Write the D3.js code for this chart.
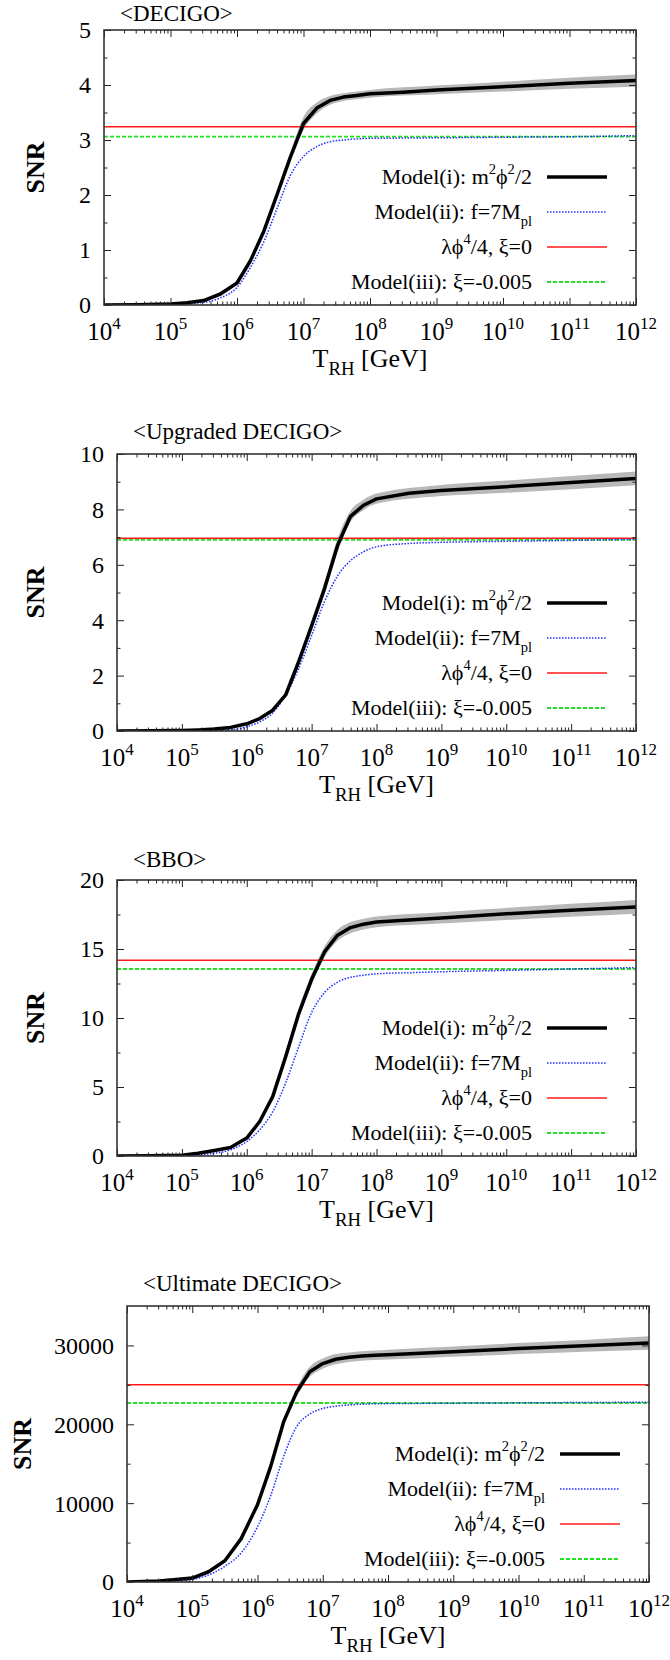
<!DOCTYPE html>
<html>
<head>
<meta charset="utf-8">
<script src="https://cdn.jsdelivr.net/npm/d3@7"></script>
<style>
  body { margin: 0; background: #fff; }
  svg { display: block; }
  svg text { font-family: "Liberation Serif", "Times New Roman", "Nimbus Roman", "DejaVu Serif", serif; }
</style>
</head>
<body>
<svg id="chart" width="670" height="1660"></svg>
<script>
// log10(T_RH / GeV) grids
const blackT = [4, 4.5, 5, 5.25, 5.5, 5.75, 6, 6.2, 6.4, 6.6, 6.8, 7, 7.2, 7.4, 7.6, 7.8, 8, 8.5, 9, 10, 11, 12];
const blueT = [4, 4.5, 5, 5.5, 5.75, 6, 6.2, 6.4, 6.6, 6.8, 7, 7.2, 7.4, 7.6, 7.8, 8, 8.5, 9, 10, 11, 12];
const bandT = [6.6, 6.8, 7, 7.2, 7.4, 7.6, 7.8, 8, 9, 10, 11, 12];
const tickExps = [4, 5, 6, 7, 8, 9, 10, 11, 12];
const minorMult = [2, 3, 4, 5, 6, 7, 8, 9];

// <DECIGO>
const decigoModel1 = [0, 0.005, 0.02, 0.04, 0.08, 0.2, 0.4, 0.8, 1.33, 2.0, 2.68, 3.3, 3.58, 3.72, 3.78, 3.81, 3.84, 3.87, 3.91, 3.97, 4.03, 4.08];
const decigoModel2 = [0, 0.003, 0.01, 0.05, 0.13, 0.32, 0.68, 1.14, 1.75, 2.35, 2.7, 2.88, 2.97, 3.0, 3.02, 3.03, 3.035, 3.04, 3.05, 3.06, 3.08];
const decigoBandLo = [1.93, 2.6, 3.18, 3.48, 3.64, 3.71, 3.74, 3.77, 3.83, 3.88, 3.93, 3.97];
const decigoBandHi = [2.07, 2.76, 3.42, 3.68, 3.8, 3.85, 3.88, 3.91, 3.99, 4.06, 4.13, 4.19];
const decigoLambda = 3.24;
const decigoXi = 3.06;

// <Upgraded DECIGO>
const upgradedModel1 = [0, 0.005, 0.02, 0.04, 0.07, 0.13, 0.26, 0.45, 0.75, 1.3, 2.5, 3.8, 5.15, 6.7, 7.75, 8.15, 8.38, 8.58, 8.68, 8.82, 8.97, 9.12];
const upgradedModel2 = [0, 0.003, 0.01, 0.02, 0.04, 0.15, 0.33, 0.65, 1.3, 2.25, 3.45, 4.68, 5.6, 6.15, 6.47, 6.65, 6.77, 6.81, 6.85, 6.88, 6.92];
const upgradedBandLo = [1.2, 2.35, 3.6, 4.95, 6.45, 7.55, 7.97, 8.2, 8.48, 8.6, 8.73, 8.87];
const upgradedBandHi = [1.4, 2.65, 4.0, 5.4, 6.95, 7.95, 8.35, 8.57, 8.88, 9.04, 9.21, 9.37];
const upgradedLambda = 6.96;
const upgradedXi = 6.9;

// <BBO>
const bboModel1 = [0, 0.02, 0.06, 0.2, 0.4, 0.62, 1.3, 2.5, 4.3, 7.2, 10.3, 12.8, 14.8, 16.0, 16.55, 16.8, 16.95, 17.1, 17.25, 17.55, 17.8, 18.05];
const bboModel2 = [0, 0.01, 0.04, 0.2, 0.45, 1.05, 1.9, 3.2, 5.3, 7.9, 10.4, 11.85, 12.6, 12.95, 13.1, 13.2, 13.28, 13.35, 13.45, 13.55, 13.65];
const bboBandLo = [6.9, 9.9, 12.4, 14.4, 15.6, 16.15, 16.42, 16.58, 16.85, 17.1, 17.33, 17.55];
const bboBandHi = [7.5, 10.7, 13.2, 15.2, 16.4, 16.95, 17.2, 17.35, 17.67, 17.98, 18.27, 18.55];
const bboLambda = 14.18;
const bboXi = 13.55;

// <Ultimate DECIGO>
const ultimateModel1 = [0, 120, 500, 1300, 2700, 5500, 9800, 14600, 20300, 24100, 26650, 27700, 28250, 28500, 28650, 28750, 28820, 29000, 29200, 29600, 29950, 30300];
const ultimateModel2 = [0, 80, 350, 2000, 3700, 7000, 10900, 15900, 19700, 21300, 22000, 22300, 22450, 22550, 22600, 22620, 22650, 22680, 22720, 22760, 22800];
const ultimateBandLo = [23500, 26000, 27050, 27600, 27900, 28050, 28150, 28200, 28550, 28900, 29200, 29450];
const ultimateBandHi = [24700, 27300, 28350, 28900, 29100, 29250, 29350, 29450, 29850, 30300, 30700, 31150];
const ultimateLambda = 25000;
const ultimateXi = 22700;

const titles = ["<DECIGO>", "<Upgraded DECIGO>", "<BBO>", "<Ultimate DECIGO>"];
const yMax = [5, 10, 20, 35000];
const yMajor = [1, 2, 5, 10000];
const yMinor = [0.5, 1, 2.5, 5000];

const panels = [
  { title: titles[0], ymax: yMax[0], major: yMajor[0], minor: yMinor[0], m1: decigoModel1, m2: decigoModel2, lo: decigoBandLo, hi: decigoBandHi, lam: decigoLambda, xi: decigoXi,
    box: { left: 104, right: 636, top: 30, bottom: 305, snrX: 35, titleY: 21 } },
  { title: titles[1], ymax: yMax[1], major: yMajor[1], minor: yMinor[1], m1: upgradedModel1, m2: upgradedModel2, lo: upgradedBandLo, hi: upgradedBandHi, lam: upgradedLambda, xi: upgradedXi,
    box: { left: 117, right: 636, top: 454, bottom: 731, snrX: 35, titleY: 439 } },
  { title: titles[2], ymax: yMax[2], major: yMajor[2], minor: yMinor[2], m1: bboModel1, m2: bboModel2, lo: bboBandLo, hi: bboBandHi, lam: bboLambda, xi: bboXi,
    box: { left: 117, right: 636, top: 880, bottom: 1156, snrX: 35, titleY: 867 } },
  { title: titles[3], ymax: yMax[3], major: yMajor[3], minor: yMinor[3], m1: ultimateModel1, m2: ultimateModel2, lo: ultimateBandLo, hi: ultimateBandHi, lam: ultimateLambda, xi: ultimateXi,
    box: { left: 127, right: 649, top: 1306, bottom: 1582, snrX: 22, titleY: 1291 } }
];

const legendItems = [
  { parts: [["Model(i): m", ""], ["2", "sup"], ["ϕ", ""], ["2", "sup"], ["/2", ""]], stroke: "#000", width: 3.5, dash: null },
  { parts: [["Model(ii): f=7M", ""], ["pl", "sub"]], stroke: "#1f2fff", width: 1.5, dash: "1.5,1.5" },
  { parts: [["λϕ", ""], ["4", "sup"], ["/4, ξ=0", ""]], stroke: "#ff1a1a", width: 1.5, dash: null },
  { parts: [["Model(iii): ξ=-0.005", ""]], stroke: "#22e022", width: 1.8, dash: "4,2" }
];

const FONT = '"Liberation Serif", "Times New Roman", "Nimbus Roman", "DejaVu Serif", serif';
const svg = d3.select("#chart").attr("font-family", FONT);

// texte avec exposants / indices
function rich(sel, parts, size, small) {
  const k2 = small || 0.66;
  let shift = 0;
  parts.forEach(([s, k]) => {
    const want = k === "sup" ? -0.45 * size : k === "sub" ? 0.32 * size : 0;
    sel.append("tspan")
      .attr("dy", want - shift)
      .attr("font-size", k ? size * k2 : size)
      .text(s);
    shift = want;
  });
}

panels.forEach((p, idx) => drawPanel(p, idx));

function drawPanel(p, idx) {
  const b = p.box;
  const g = svg.append("g").attr("font-family", FONT);
  const x = d3.scaleLog().domain([1e4, 1e12]).range([b.left, b.right]);
  const y = d3.scaleLinear().domain([0, p.ymax]).range([b.bottom, b.top]);

  const clipId = "clip" + idx;
  g.append("clipPath").attr("id", clipId)
    .append("rect")
    .attr("x", b.left).attr("y", b.top)
    .attr("width", b.right - b.left).attr("height", b.bottom - b.top);

  const plot = g.append("g").attr("clip-path", `url(#${clipId})`);

  // bande d'incertitude du modèle (i)
  const band = bandT.map((t, i) => ({ t, lo: p.lo[i], hi: p.hi[i] }));
  plot.append("path")
    .datum(band)
    .attr("fill", "#b8b8b8")
    .attr("d", d3.area()
      .x(d => x(Math.pow(10, d.t)))
      .y0(d => y(d.lo))
      .y1(d => y(d.hi))
      .curve(d3.curveMonotoneX));

  // lignes horizontales
  plot.append("line")
    .attr("x1", b.left).attr("x2", b.right)
    .attr("y1", y(p.lam)).attr("y2", y(p.lam))
    .attr("stroke", legendItems[2].stroke).attr("stroke-width", legendItems[2].width);
  plot.append("line")
    .attr("x1", b.left).attr("x2", b.right)
    .attr("y1", y(p.xi)).attr("y2", y(p.xi))
    .attr("stroke", legendItems[3].stroke).attr("stroke-width", legendItems[3].width)
    .attr("stroke-dasharray", legendItems[3].dash);

  // modèle (ii)
  plot.append("path")
    .datum(blueT.map((t, i) => [t, p.m2[i]]))
    .attr("fill", "none")
    .attr("stroke", legendItems[1].stroke)
    .attr("stroke-width", legendItems[1].width)
    .attr("stroke-dasharray", legendItems[1].dash)
    .attr("d", d3.line()
      .x(d => x(Math.pow(10, d[0])))
      .y(d => y(d[1]))
      .curve(d3.curveMonotoneX));

  // modèle (i)
  plot.append("path")
    .datum(blackT.map((t, i) => [t, p.m1[i]]))
    .attr("fill", "none")
    .attr("stroke", legendItems[0].stroke)
    .attr("stroke-width", legendItems[0].width)
    .attr("stroke-linejoin", "round")
    .attr("d", d3.line()
      .x(d => x(Math.pow(10, d[0])))
      .y(d => y(d[1])));

  // graduations
  const xMajor = tickExps.map(e => Math.pow(10, e));
  const xMinor = [];
  tickExps.slice(0, -1).forEach(e => minorMult.forEach(m => xMinor.push(m * Math.pow(10, e))));
  const yMaj = d3.range(0, p.ymax + 1e-9, p.major);
  const yMin = d3.range(p.minor, p.ymax, p.minor).filter(v => Math.abs(v / p.major - Math.round(v / p.major)) > 1e-6);

  const tickAxis = (axis, transform) => {
    const a = g.append("g").attr("transform", transform).call(axis);
    a.select(".domain").remove();
    a.selectAll("line").attr("stroke", "#222").attr("stroke-width", 1);
  };
  const h = b.bottom - b.top, w = b.right - b.left;
  tickAxis(d3.axisBottom(x).tickValues(xMajor).tickSize(-7).tickFormat(""), `translate(0,${b.bottom})`);
  tickAxis(d3.axisBottom(x).tickValues(xMinor).tickSize(-3.5).tickFormat(""), `translate(0,${b.bottom})`);
  tickAxis(d3.axisTop(x).tickValues(xMajor).tickSize(-7).tickFormat(""), `translate(0,${b.top})`);
  tickAxis(d3.axisTop(x).tickValues(xMinor).tickSize(-3.5).tickFormat(""), `translate(0,${b.top})`);
  tickAxis(d3.axisLeft(y).tickValues(yMaj).tickSize(-7).tickFormat(""), `translate(${b.left},0)`);
  tickAxis(d3.axisLeft(y).tickValues(yMin).tickSize(-3.5).tickFormat(""), `translate(${b.left},0)`);
  tickAxis(d3.axisRight(y).tickValues(yMaj).tickSize(-7).tickFormat(""), `translate(${b.right},0)`);
  tickAxis(d3.axisRight(y).tickValues(yMin).tickSize(-3.5).tickFormat(""), `translate(${b.right},0)`);

  // cadre
  g.append("rect")
    .attr("x", b.left).attr("y", b.top)
    .attr("width", w).attr("height", h)
    .attr("fill", "none").attr("stroke", "#333").attr("stroke-width", 1.6);

  // étiquettes y
  g.selectAll("text.ylab").data(yMaj).enter().append("text")
    .attr("class", "ylab")
    .attr("x", b.left - 13).attr("y", d => y(d))
    .attr("dy", "0.35em")
    .attr("text-anchor", "end")
    .attr("font-size", 24)
    .text(d => d3.format("d")(d));

  // étiquettes x : 10^n
  tickExps.forEach(e => {
    const t = g.append("text")
      .attr("x", x(Math.pow(10, e))).attr("y", b.bottom + 35)
      .attr("text-anchor", "middle");
    rich(t, [["10", ""], [String(e), "sup"]], 25, 0.68);
  });

  // titre de l'axe x
  const xl = g.append("text")
    .attr("x", (b.left + b.right) / 2).attr("y", b.bottom + 62)
    .attr("text-anchor", "middle");
  rich(xl, [["T", ""], ["RH", "sub"], [" [GeV]", ""]], 26, 0.72);

  // titre de l'axe y
  g.append("text")
    .attr("transform", `translate(${b.snrX},${(b.top + b.bottom) / 2}) rotate(-90)`)
    .attr("text-anchor", "middle")
    .attr("dy", "0.35em")
    .attr("font-size", 26)
    .attr("font-weight", "bold")
    .text("SNR");

  // titre du panneau
  g.append("text")
    .attr("x", b.left + 16).attr("y", b.titleY)
    .attr("font-size", 23)
    .text(p.title);

  // légende
  legendItems.forEach((it, i) => {
    const ly = b.bottom - 23 - 35 * (legendItems.length - 1 - i);
    const t = g.append("text")
      .attr("x", b.right - 104).attr("y", ly + 7)
      .attr("text-anchor", "end");
    rich(t, it.parts, 22);
    g.append("line")
      .attr("x1", b.right - 89).attr("x2", b.right - 29)
      .attr("y1", ly).attr("y2", ly)
      .attr("stroke", it.stroke).attr("stroke-width", it.width)
      .attr("stroke-dasharray", it.dash);
  });
}
</script>
</body>
</html>
